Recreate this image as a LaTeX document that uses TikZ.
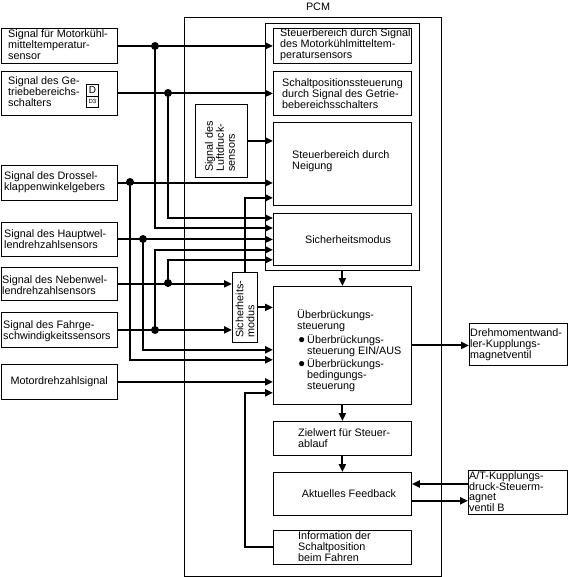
\documentclass[tikz,border=0pt]{standalone}
\usepackage{fontspec}
\setmainfont{Liberation Sans}
\usetikzlibrary{arrows.meta,calc}
\newcommand\myfs{\fontsize{10.8}{11}\selectfont}
\newcommand\myblt{\makebox[9pt][l]{\fontsize{12}{11}\selectfont ●}}
\newcommand\mybox[5]{\node[boxst, minimum width=#4pt, minimum height=#5pt] (#1) at (#2,#3) {};}
\begin{document}
\begin{tikzpicture}[x=1pt,y=-1pt,
  boxst/.style={draw, line width=0.8pt, inner sep=0pt, anchor=north west},
  txt/.style={align=left, inner sep=0pt, font=\myfs, anchor=west},
  conn/.style={line width=2pt, -{Triangle[length=8pt,width=7pt]}},
  wire/.style={line width=2pt},
  dotst/.style={circle, fill, inner sep=0pt, minimum size=8pt}]
\useasboundingbox (0,0) rectangle (568,577);
% left boxes
\mybox{s1}{0.5}{28}{116.5}{35}
\mybox{s2}{0.5}{71}{116.5}{44}
\mybox{s3}{0.5}{165}{116.5}{35}
\mybox{s4}{0.5}{222}{116.5}{34}
\mybox{s5}{0.5}{267}{116.5}{33}
\mybox{s6}{0.5}{312}{116.5}{35}
\mybox{s7}{0.5}{364}{116.5}{35}
% PCM
\mybox{pcm}{184}{17}{257}{559}
\mybox{inner}{265}{23}{154}{247}
\mybox{bA}{273}{28}{138}{35}
\mybox{bB}{273}{71}{138}{44}
\mybox{bC}{273}{122}{138}{83}
\mybox{bD}{273}{213}{138}{52}
\mybox{luft}{195}{104}{52}{73}
\mybox{sich}{232}{272}{25}{70}
\mybox{ueb}{273}{286}{138}{118}
\mybox{ziel}{273}{421}{138}{34}
\mybox{akt}{273}{472}{138}{43}
\mybox{info}{273}{530}{138}{34}
\mybox{dreh}{469}{323}{98}{42}
\mybox{atb}{468}{470}{99}{44}
% D/D3 icon
\mybox{iconD}{86}{84}{12}{12}
\mybox{iconDD}{86}{96}{12}{11}
\node[inner sep=0pt, font=\fontsize{10}{10}\selectfont] (tD) at (iconD.center) {D};
\node[inner sep=0pt, font=\fontsize{6}{6}\selectfont] (tDD) at (iconDD.center) {D3};
% texts
\node[txt] (t1) at (8,45) {Signal für Motorkühl-\\mitteltemperatur-\\sensor};
\node[txt] (t2) at (8,92) {Signal des Ge-\\triebebereichs-\\schalters};
\node[txt] (t3) at (4,182) {Signal des Drossel-\\klappenwinkelgebers};
\node[txt] (t4) at (4,239) {Signal des Hauptwel-\\lendrehzahlsensors};
\node[txt] (t5) at (2,285) {Signal des Nebenwel-\\lendrehzahlsensors};
\node[txt] (t6) at (3,331) {Signal des Fahrge-\\schwindigkeitssensors};
\node[txt, anchor=center] (t7) at (s7.center) {Motordrehzahlsignal};
\node[txt, anchor=center] (tpcm) at (318,7) {PCM};
\node[txt] (tA) at (280,45) {Steuerbereich durch Signal\\des Motorkühlmitteltem-\\peratursensors};
\node[txt] (tB) at (282,94) {Schaltpositionssteuerung\\durch Signal des Getrie-\\bebereichsschalters};
\node[txt] (tC) at (292,161) {Steuerbereich durch\\Neigung};
\node[txt, anchor=center] (tD2) at (348,240) {Sicherheitsmodus};
\node[txt, rotate=90] (tluft) at (220,172) {Signal des\\Luftdruck-\\sensors};
\node[txt, rotate=90] (tsich) at (245,338) {Sicherheits-\\modus};
\node[txt] (tU1) at (297,321) {Überbrückungs-\\steuerung};
\node[txt] (tU2) at (298,363) {\myblt Überbrückungs-\\\phantom{\myblt}steuerung EIN/AUS\\\myblt Überbrückungs-\\\phantom{\myblt}bedingungs-\\\phantom{\myblt}steuerung};
\node[txt] (tZ) at (298,438) {Zielwert für Steuer-\\ablauf};
\node[txt, anchor=center] (tAk) at (349,494) {Aktuelles Feedback};
\node[txt] (tI) at (298,547) {Information der\\Schaltposition\\beim Fahren};
\node[txt] (tDr) at (470,345) {Drehmomentwand-\\ler-Kupplungs-\\magnetventil};
\node[txt, font=\fontsize{10.8}{10}\selectfont] (tAT) at (469,492) {A/T-Kupplungs-\\druck-Steuerm-\\agnet\\ventil B};
% junction coordinates
\coordinate (d1) at (155,46);
\coordinate (d2) at (168,93);
\coordinate (d3) at (130,182);
\coordinate (d4) at (143,239);
\coordinate (d5) at (168,283);
\coordinate (d6) at (155,330);
% connectors
\draw[conn] (s1.east) -- (s1.east -| bA.west);
\draw[conn] (s2.east) -- (s2.east -| bB.west);
\draw[conn] (luft.east) -- (luft.east -| bC.west);
\draw[conn] (s3.east) -- (s3.east -| bC.west);
\draw[conn] (sich.north) |- ([yshift=8pt]bC.south west);
\draw[conn] (d2) |- ([yshift=-5pt]bD.north west);
\draw[conn] (d1) |- ([yshift=-15pt]bD.north west);
\draw[conn] (s4.east) -- (s4.east -| bD.west);
\draw[conn] (d6) |- ([yshift=16pt]bD.south west);
\draw[conn] (d5) |- ([yshift=6pt]bD.south west);
\draw[conn] (s5.east) -- (s5.east -| sich.west);
\draw[conn] (s6.east) -- (s6.east -| sich.west);
\draw[conn] (sich.east) -- (sich.east -| ueb.west);
\draw[conn] (d4) |- ([yshift=55pt]ueb.south west);
\draw[conn] (d3) |- ([yshift=45pt]ueb.south west);
\draw[conn] (s7.east) -- (s7.east -| ueb.west);
\draw[conn] (info.west) -| ([xshift=-28pt,yshift=12pt]ueb.south west) -- ([yshift=12pt]ueb.south west);
\draw[conn] (ueb.north |- inner.south) -- (ueb.north);
\draw[conn] (ueb.south) -- (ziel.north);
\draw[conn] (ziel.south) -- (akt.north);
\draw[conn] (ueb.east) -- (ueb.east -| dreh.west);
\draw[conn] ([yshift=-12pt]akt.north east -| atb.west) -- ([yshift=-12pt]akt.north east);
\draw[conn] ([yshift=15pt]akt.south east) -- ([yshift=15pt]akt.south east -| atb.west);
% dots
\foreach \d in {d1,d2,d3,d4,d5,d6} \node[dotst] at (\d) {};
\end{tikzpicture}
\end{document}
